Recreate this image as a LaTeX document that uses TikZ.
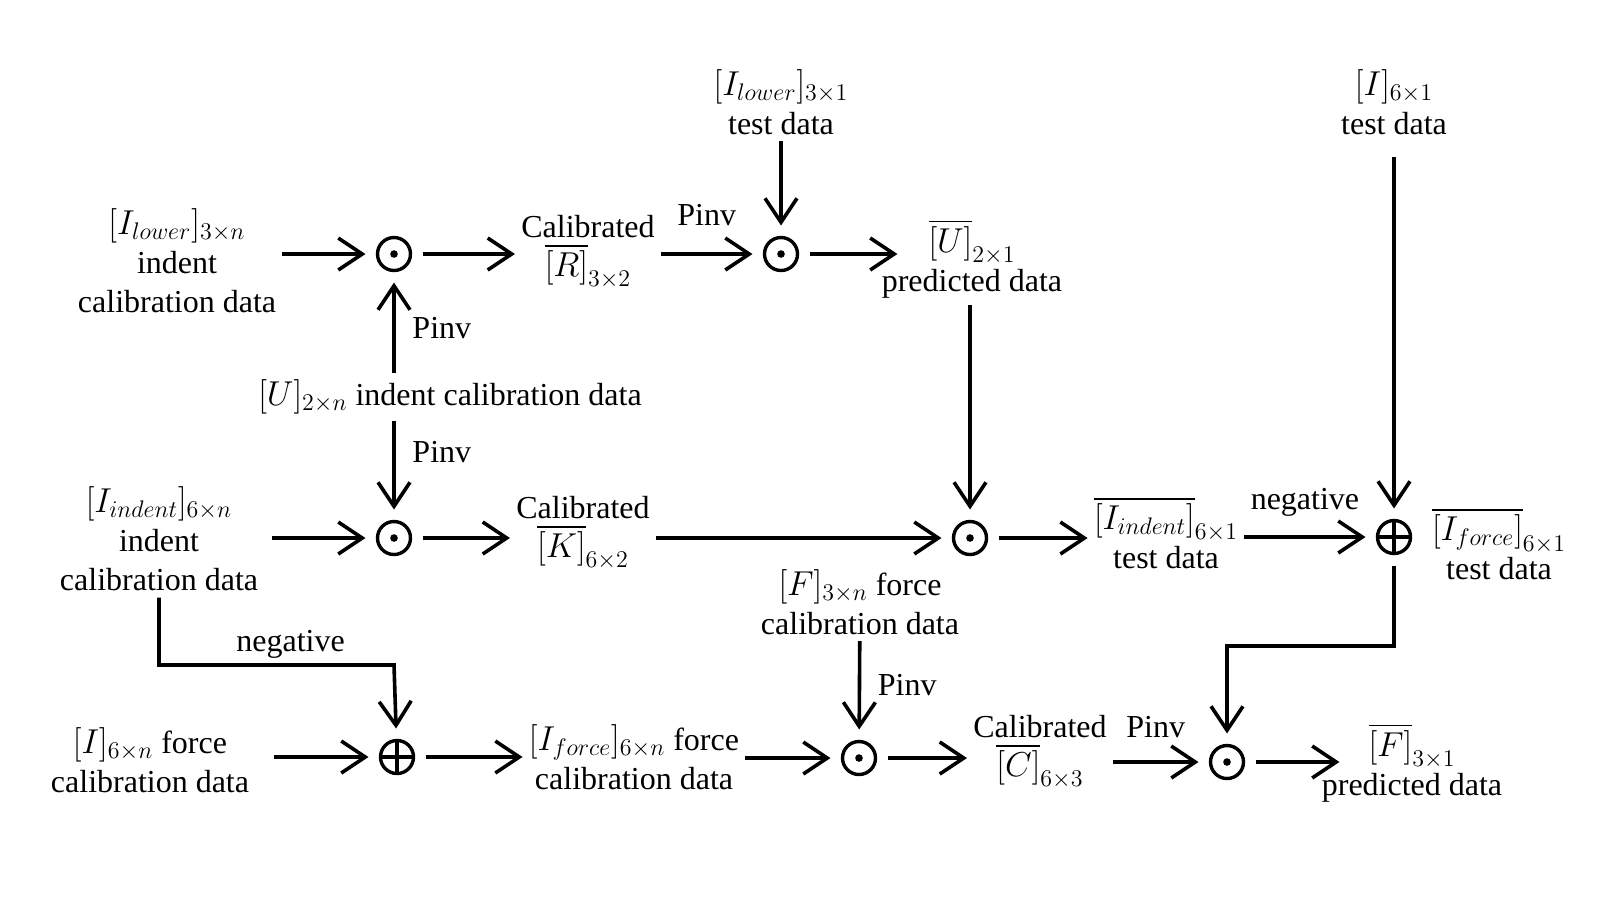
\documentclass[tikz,border=0pt]{standalone}
\usepackage{fontspec}
\setmainfont{Liberation Serif}
\usepackage{amsmath}
\DeclareMathSizes{16}{16}{12}{9}
\usetikzlibrary{arrows.meta}
\usetikzlibrary{positioning}

\tikzset{
  odot/.style={circle, draw, line width=1.7pt, minimum size=16.5pt, inner sep=0pt, outer sep=6pt,
    path picture={\fill (path picture bounding box.center) circle (1.9pt);}},
  oplus/.style={circle, draw, line width=1.7pt, minimum size=16.5pt, inner sep=0pt, outer sep=6pt,
    path picture={\draw[line width=1.7pt] (path picture bounding box.north) -- (path picture bounding box.south)
      (path picture bounding box.west) -- (path picture bounding box.east);}},
  txt/.style={align=center, inner sep=3pt},
  flow/.style={-{Straight Barb[length=12pt,width=16pt]}, line width=1.8pt},
}

\begin{document}
\begin{tikzpicture}[x=0.5pt, y=-0.5pt, font=\fontsize{16}{19.5}\selectfont]
   \useasboundingbox (0,0) rectangle (1604,896);

   % top row
   \node[txt, minimum width=97pt] (ilowcal) at (177,261) {$[I_{lower}]_{3\times n}$\\indent\\calibration data};
   \node[odot] (dotR) at (394,254) {};
   \node[txt] (calR) at (588,252) {Calibrated\\$\overline{[R]}_{3\times2}$};
   \node[txt] (ilowtest) at (781,102) {$[I_{lower}]_{3\times1}$\\test data};
   \node[odot] (dotU) at (781,254) {};
   \node[txt] (upred) at (972,259) {$\overline{[U]}_{2\times1}$\\predicted data};
   \node[txt] (ucal) at (450,397) {$[U]_{2\times n}$ indent calibration data};

   % middle row
   \node[txt, minimum width=113pt] (iindcal) at (159,539) {$[I_{indent}]_{6\times n}$\\indent\\calibration data};
   \node[odot] (dotK) at (394,538) {};
   \node[txt] (calK) at (583,533) {Calibrated\\$\overline{[K]}_{6\times2}$};
   \node[odot] (dotI) at (970,538) {};
   \node[txt] (iindtest) at (1166,533) {$\overline{[I_{indent}]}_{6\times1}$\\test data};
   \node[oplus] (plusI) at (1394,537) {};
   \node[txt] (itest) at (1394,102) {$[I]_{6\times1}$\\test data};
   \node[txt] (iforcetest) at (1499,544) {$\overline{[I_{force}]}_{6\times1}$\\test data};

   % bottom row
   \node[txt, minimum width=124pt] (iforcecal) at (150,760) {$[I]_{6\times n}$ force\\calibration data};
   \node[oplus] (plusF) at (397,757) {};
   \node[txt] (iforce) at (634,757) {$[I_{force}]_{6\times n}$ force\\calibration data};
   \node[txt] (fcal) at (860,602) {$[F]_{3\times n}$ force\\calibration data};
   \node[odot] (dotC) at (859,758) {};
   \node[txt] (calC) at (1040,752) {Calibrated\\$\overline{[C]}_{6\times3}$};
   \node[odot] (dotF) at (1227,762) {};
   \node[txt] (fpred) at (1412,763) {$\overline{[F]}_{3\times1}$\\predicted data};

   \coordinate (kneeL) at (394,665);
   \coordinate (kneeR) at (1227,646);

   \draw[flow] (ilowcal.east |- dotR) -- (dotR);
   \draw[flow] (dotR) -- (calR.west |- dotR);
   \draw[flow] (calR.east |- dotU) -- node[above=10pt] {Pinv} (dotU);
   \draw[flow] (ilowtest) -- (dotU);
   \draw[flow] (dotU) -- ([xshift=11pt]upred.west |- dotU);
   \draw[flow] (upred.south -| dotI) -- (dotI);
   \draw[flow] (ucal.north -| dotR) -- node[right=5pt] {Pinv} (dotR);
   \draw[flow] (ucal.south -| dotK) -- node[pos=0.35, right=5pt] {Pinv} (dotK);

   \draw[flow] (iindcal.east |- dotK) -- (dotK);
   \draw[flow] (dotK) -- (calK.west |- dotK);
   \draw[flow] (calK.east |- dotI) -- (dotI);
   \draw[flow] (dotI) -- (iindtest.west |- dotI);
   \draw[flow] (iindtest.east |- plusI) -- node[above=6pt] {negative} (plusI);
   \draw[flow, shorten <=8pt] (itest) -- (plusI);
   \draw[flow] (plusI) |- (kneeR) -- (dotF);

   \draw[flow] (iindcal.south) |- node[pos=0.78, above=-1pt] {negative} (kneeL) -- (plusF);
   \draw[flow] (iforcecal.east |- plusF) -- (plusF);
   \draw[flow] (plusF) -- (iforce.west |- plusF);
   \draw[flow] (iforce.east |- dotC) -- (dotC);
   \draw[flow] (fcal) -- node[right=5pt] {Pinv} (dotC);
   \draw[flow] (dotC) -- (calC.west |- dotC);
   \draw[flow] (calC.east |- dotF) -- node[above=8pt] {Pinv} (dotF);
   \draw[flow] (dotF) -- ([xshift=12pt]fpred.west |- dotF);
\end{tikzpicture}
\end{document}
